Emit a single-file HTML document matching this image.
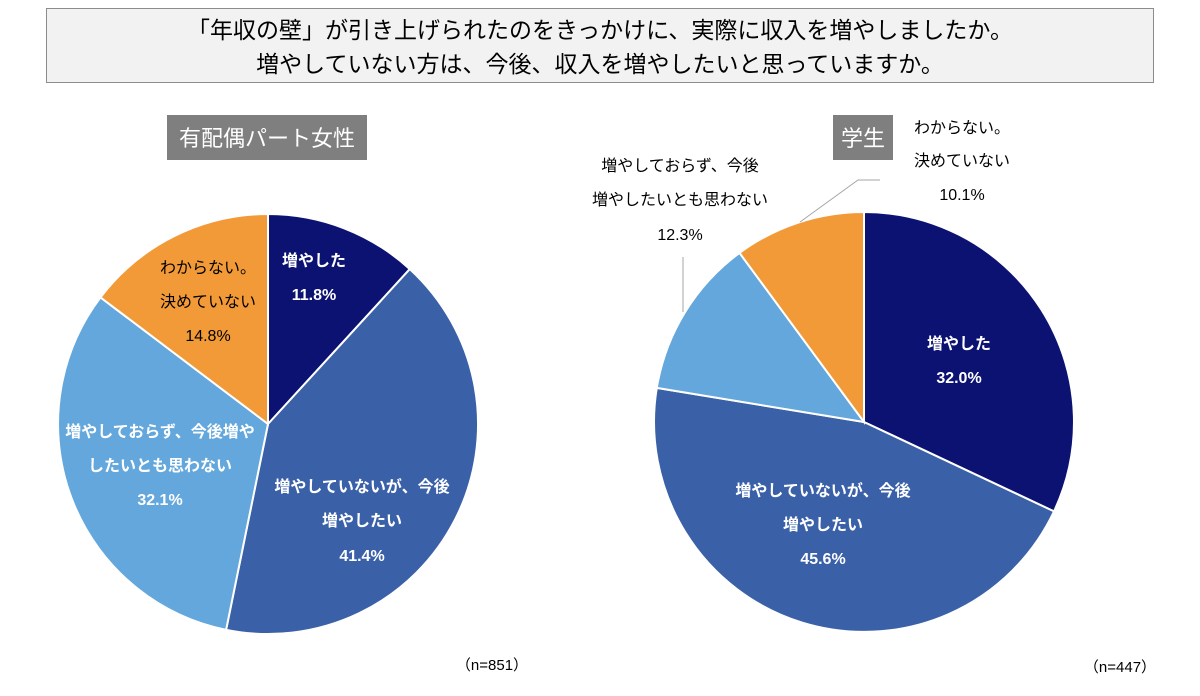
<!DOCTYPE html>
<html><head><meta charset="utf-8"><style>
body{margin:0;background:#fff;width:1200px;height:691px;overflow:hidden;font-family:"Liberation Sans","Noto Sans CJK JP",sans-serif}
</style></head><body>
<svg width="1200" height="691" xmlns="http://www.w3.org/2000/svg" font-family="Liberation Sans, Noto Sans CJK JP, sans-serif">
<rect x="46.5" y="8.5" width="1107" height="74" fill="#f2f2f2" stroke="#8c8c8c" stroke-width="1"/>
<text x="600" y="38" font-size="23" text-anchor="middle" fill="#000">「年収の壁」が引き上げられたのをきっかけに、実際に収入を増やしましたか。</text>
<text x="600" y="72" font-size="23" text-anchor="middle" fill="#000">増やしていない方は、今後、収入を増やしたいと思っていますか。</text>
<rect x="167" y="115" width="200" height="45" fill="#7f7f7f"/>
<text x="267" y="146" font-size="22" text-anchor="middle" fill="#fff">有配偶パート女性</text>
<rect x="833" y="115" width="60" height="45" fill="#7f7f7f"/>
<text x="863" y="146" font-size="22" text-anchor="middle" fill="#fff">学生</text>
<g stroke="#fff" stroke-width="2">
<path d="M268,424 L268,214 A210,210 0 0 1 409.8,269.1 Z" fill="#0c1272"/>
<path d="M268,424 L409.8,269.1 A210,210 0 0 1 226.1,629.8 Z" fill="#3a60a8"/>
<path d="M268,424 L226.1,629.8 A210,210 0 0 1 100.5,297.4 Z" fill="#63a7dc"/>
<path d="M268,424 L100.5,297.4 A210,210 0 0 1 268,214 Z" fill="#f39a38"/>
<path d="M864,422 L864,212 A210,210 0 0 1 1054,511.4 Z" fill="#0c1272"/>
<path d="M864,422 L1054,511.4 A210,210 0 0 1 656.8,387.9 Z" fill="#3a60a8"/>
<path d="M864,422 L656.8,387.9 A210,210 0 0 1 739.5,252.9 Z" fill="#63a7dc"/>
<path d="M864,422 L739.5,252.9 A210,210 0 0 1 864,212 Z" fill="#f39a38"/>
</g>
<g font-size="16" text-anchor="middle">
<g fill="#fff" font-weight="bold">
<text x="314" y="266">増やした</text><text x="314" y="300">11.8%</text>
<text x="362" y="492">増やしていないが、今後</text><text x="362" y="526">増やしたい</text><text x="362" y="561">41.4%</text>
<text x="160" y="437">増やしておらず、今後増や</text><text x="160" y="471">したいとも思わない</text><text x="160" y="505">32.1%</text>
<text x="959" y="349">増やした</text><text x="959" y="383">32.0%</text>
<text x="823" y="496">増やしていないが、今後</text><text x="823" y="530">増やしたい</text><text x="823" y="564">45.6%</text>
</g>
<g fill="#000">
<text x="208" y="273">わからない。</text><text x="208" y="307">決めていない</text><text x="208" y="341">14.8%</text>
<text x="962" y="133">わからない。</text><text x="962" y="166">決めていない</text><text x="962" y="200">10.1%</text>
<text x="680" y="171">増やしておらず、今後</text><text x="680" y="205">増やしたいとも思わない</text><text x="680" y="240">12.3%</text>
<text x="492" y="670" font-size="15">（n=851）</text>
<text x="1120" y="672" font-size="15">（n=447）</text>
</g></g>
<g stroke="#a6a6a6" stroke-width="1" fill="none">
<path d="M800,222 L858,180 L880,180"/>
<path d="M683,312 L683,257"/>
</g>
</svg>
</body></html>
